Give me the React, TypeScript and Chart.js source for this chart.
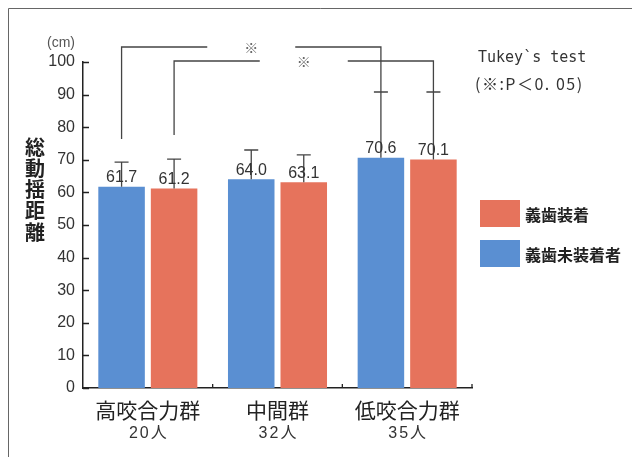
import React, { useEffect, useRef } from 'react';
import { Chart, registerables } from 'chart.js';

Chart.register(...registerables);

// Groups by bite force and their sizes
const categories = ['高咬合力群', '中間群', '低咬合力群'];
const groupSizes = ['20人', '32人', '35人'];

// Mean total mobility distance (cm) and standard deviations
const withoutDentureMeans = [61.7, 64.0, 70.6]; // 義歯未装着者
const withoutDentureSD = [7.6, 9.0, 20.2];
const withDentureMeans = [61.2, 63.1, 70.1]; // 義歯装着
const withDentureSD = [9.0, 8.4, 20.7];

const yTickValues = [0, 10, 20, 30, 40, 50, 60, 70, 80, 90, 100];

// Significant pairs (Tukey): dataset index, from category, to category, bracket level, left drop end
const comparisonDataset = [0, 1];
const comparisonFrom = [0, 0];
const comparisonTo = [2, 2];
const comparisonLevel = [104.6, 100.3];
const comparisonLeftEnd = [76.4, 77.6];

const BLUE = '#5a8fd2';
const RED = '#e6735c';
const INK = '#333333';
const NUM_FONT = "'Liberation Sans', 'Noto Sans CJK JP', sans-serif";
const JP_FONT = "'Noto Sans CJK JP', sans-serif";

const sdSets = [withoutDentureSD, withDentureSD];

const overlayPlugin = {
  id: 'overlay',
  afterDatasetsDraw(chart: any) {
    const { ctx, chartArea, scales } = chart;
    const y = scales.y;
    const x = scales.x;
    ctx.save();

    // error bars and value labels
    chart.data.datasets.forEach((ds: any, di: number) => {
      const meta = chart.getDatasetMeta(di);
      meta.data.forEach((bar: any, i: number) => {
        const mean = ds.data[i];
        const top = y.getPixelForValue(mean + sdSets[di][i]);
        const base = y.getPixelForValue(mean);
        ctx.strokeStyle = '#444';
        ctx.lineWidth = 1.3;
        ctx.beginPath();
        ctx.moveTo(bar.x, base);
        ctx.lineTo(bar.x, top);
        ctx.moveTo(bar.x - 7, top);
        ctx.lineTo(bar.x + 7, top);
        ctx.stroke();
        ctx.fillStyle = INK;
        ctx.font = `16px ${NUM_FONT}`;
        ctx.textAlign = 'center';
        ctx.textBaseline = 'middle';
        ctx.fillText(mean.toFixed(1), bar.x, base - 9);
      });
    });

    // significance brackets
    comparisonDataset.forEach((d, k) => {
      const meta = chart.getDatasetMeta(d);
      const x1 = meta.data[comparisonFrom[k]].x;
      const x2 = meta.data[comparisonTo[k]].x;
      const endVal = chart.data.datasets[d].data[comparisonTo[k]] + sdSets[d][comparisonTo[k]];
      const yl = y.getPixelForValue(comparisonLevel[k]);
      const yLeft = y.getPixelForValue(comparisonLeftEnd[k]);
      const yRight = y.getPixelForValue(endVal);
      const mid = (x1 + x2) / 2;
      ctx.strokeStyle = '#444';
      ctx.lineWidth = 1.3;
      ctx.beginPath();
      ctx.moveTo(x1, yLeft);
      ctx.lineTo(x1, yl);
      ctx.lineTo(mid - 44, yl);
      ctx.moveTo(mid + 44, yl);
      ctx.lineTo(x2, yl);
      ctx.lineTo(x2, yRight);
      ctx.stroke();
      ctx.fillStyle = '#666';
      ctx.font = `14px ${JP_FONT}`;
      ctx.textAlign = 'center';
      ctx.textBaseline = 'middle';
      ctx.fillText('※', mid, yl + 1);
    });

    // inward ticks on the y axis
    ctx.strokeStyle = '#222';
    ctx.lineWidth = 1.3;
    ctx.beginPath();
    yTickValues.forEach((v) => {
      const py = Math.round(y.getPixelForValue(v)) + 0.5;
      ctx.moveTo(chartArea.left, py);
      ctx.lineTo(chartArea.left + 6, py);
    });
    // category boundary ticks on the x axis
    for (let i = 1; i <= categories.length; i++) {
      const px = x.getPixelForValue(i - 0.5);
      ctx.moveTo(px, chartArea.bottom);
      ctx.lineTo(px, chartArea.bottom - 4);
    }
    ctx.stroke();

    // group sizes under category names
    ctx.fillStyle = INK;
    ctx.font = `16px ${NUM_FONT}`;
    ctx.textAlign = 'center';
    ctx.textBaseline = 'middle';
    (ctx as any).letterSpacing = '2px';
    groupSizes.forEach((s, i) => {
      ctx.fillText(s, x.getPixelForValue(i) + 1, chartArea.bottom + 46);
    });
    (ctx as any).letterSpacing = '0px';

    // vertical axis title
    ctx.font = `bold 20px ${JP_FONT}`;
    ctx.fillStyle = '#222';
    const title = '総動揺距離';
    for (let i = 0; i < title.length; i++) {
      ctx.fillText(title[i], 27, 139 + i * 21.3);
    }

    // unit
    ctx.font = `14px ${NUM_FONT}`;
    ctx.fillStyle = '#555';
    ctx.fillText('(cm)', 53, 35);

    // legend
    const legendItems = [
      { label: '義歯装着', color: RED },
      { label: '義歯未装着者', color: BLUE },
    ];
    legendItems.forEach((it, i) => {
      const ly = 192 + i * 40;
      ctx.fillStyle = it.color;
      ctx.fillRect(472, ly, 40, 27);
      ctx.fillStyle = '#222';
      ctx.font = `bold 16px ${JP_FONT}`;
      ctx.textAlign = 'left';
      ctx.fillText(it.label, 517, ly + 15);
    });

    // test annotation
    ctx.fillStyle = INK;
    ctx.font = `15px 'DejaVu Sans Mono', monospace`;
    ctx.textAlign = 'left';
    ctx.fillText('Tukey`s test', 470, 50);
    ctx.font = `16px ${JP_FONT}`;
    (ctx as any).letterSpacing = '1.5px';
    ctx.fillText('(※:P＜0. 05)', 467, 76);
    (ctx as any).letterSpacing = '0px';

    // frame
    ctx.strokeStyle = '#666';
    ctx.lineWidth = 1;
    ctx.beginPath();
    ctx.moveTo(0.5, chart.height);
    ctx.lineTo(0.5, 0.5);
    ctx.lineTo(chart.width, 0.5);
    ctx.stroke();

    ctx.restore();
  },
};

export default function App() {
  const ref = useRef<HTMLCanvasElement | null>(null);

  useEffect(() => {
    if (!ref.current) return;
    const chart = new Chart(ref.current, {
      type: 'bar',
      data: {
        labels: categories,
        datasets: [
          {
            label: '義歯未装着者',
            data: withoutDentureMeans,
            backgroundColor: BLUE,
            categoryPercentage: 0.81,
            barPercentage: 0.886,
          },
          {
            label: '義歯装着',
            data: withDentureMeans,
            backgroundColor: RED,
            categoryPercentage: 0.81,
            barPercentage: 0.886,
          },
        ],
      },
      options: {
        animation: false,
        responsive: true,
        maintainAspectRatio: false,
        layout: { padding: { top: 54, right: 160, left: 0, bottom: 0 } },
        plugins: {
          legend: { display: false },
          tooltip: { enabled: false },
        },
        scales: {
          x: {
            grid: { display: false, drawTicks: false },
            border: { display: true, color: '#222', width: 1.5 },
            ticks: {
              padding: 9,
              color: '#222',
              font: { family: JP_FONT, size: 21 },
            },
            afterFit(scale: any) {
              scale.height = 69;
            },
          },
          y: {
            min: 0,
            max: 100,
            grid: { display: false, drawTicks: false },
            border: { display: true, color: '#222', width: 1.5 },
            ticks: {
              stepSize: 10,
              padding: 8,
              color: INK,
              font: { family: NUM_FONT, size: 16 },
            },
            afterFit(scale: any) {
              scale.width = 75;
            },
          },
        },
      },
      plugins: [overlayPlugin],
    });
    return () => chart.destroy();
  }, []);

  return (
    <div style={{ position: 'relative', width: 624, height: 449 }}>
      <canvas ref={ref} />
    </div>
  );
}
